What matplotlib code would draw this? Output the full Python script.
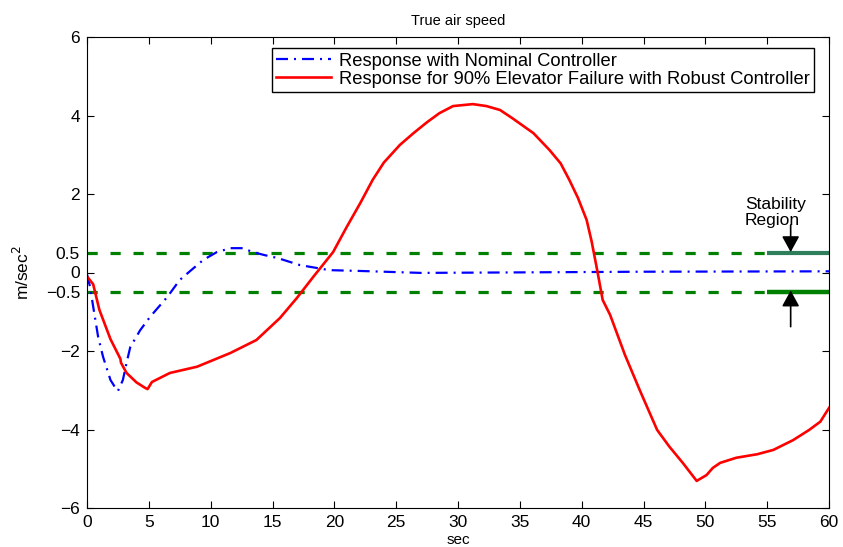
import matplotlib
matplotlib.use("Agg")
import matplotlib.pyplot as plt

plt.rcParams['font.family'] = ['Liberation Sans', 'DejaVu Sans']

# Nominal controller response (blue dash-dot)
t_nom = [0, 0.25, 0.5, 0.9, 1.3, 1.9, 2.4, 2.5, 2.9, 3.2, 3.5, 4.3, 5.1, 6.5, 7.5, 8.5, 9.4,
         10.5, 11.6, 12.6, 13.4, 14.4, 15.4, 17.2, 19.6, 22, 27, 33.4, 45, 60]
y_nom = [-0.05, -0.37, -0.87, -1.64, -2.15, -2.74, -2.99, -3.02, -2.74, -2.3, -1.9, -1.47,
         -1.13, -0.62, -0.19, 0.08, 0.32, 0.52, 0.62, 0.62, 0.52, 0.44, 0.37, 0.19, 0.06,
         0.04, -0.01, 0.0, 0.02, 0.03]

# 90% elevator failure with robust controller (red solid)
t_rob = [0, 0.5, 1.0, 1.9, 2.7, 2.75, 3.2, 4.0, 4.7, 4.9, 5.25, 6.7, 8.9, 11.6, 13.7, 15.6,
         16.97, 18.3, 19.9, 21.0, 22.1, 23.1, 24.0, 25.3, 26.4, 27.5, 28.5, 29.6, 31.2, 32.3,
         33.4, 34.4, 36.1, 37.4, 38.3, 39.0, 39.7, 40.4, 40.8, 41.2, 41.7, 42.3, 43.5, 44.7,
         46.1, 47.1, 48.2, 49.3, 50.1, 50.6, 51.2, 52.5, 54.2, 55.5, 57.1, 58.4, 59.3, 60]
y_rob = [-0.1, -0.3, -0.95, -1.7, -2.2, -2.3, -2.56, -2.8, -2.94, -2.97, -2.79, -2.56, -2.4,
         -2.05, -1.72, -1.16, -0.65, -0.11, 0.52, 1.16, 1.77, 2.36, 2.8, 3.25, 3.55, 3.83,
         4.06, 4.24, 4.29, 4.24, 4.14, 3.93, 3.55, 3.12, 2.78, 2.36, 1.9, 1.34, 0.8, 0.15,
         -0.7, -1.08, -2.1, -3.0, -4.01, -4.44, -4.86, -5.31, -5.16, -4.98, -4.85, -4.72,
         -4.63, -4.52, -4.27, -4.01, -3.8, -3.45]

bound_levels = [0.5, -0.5]
dash_end = 55
x_ticks = [0, 5, 10, 15, 20, 25, 30, 35, 40, 45, 50, 55, 60]
y_ticks = [-6, -4, -2, -0.5, 0, 0.5, 2, 4, 6]
y_ticklabels = ['\u22126', '\u22124', '\u22122', '\u22120.5', '0', '0.5', '2', '4', '6']

fig = plt.figure(figsize=(8.43, 5.47), dpi=100)
ax = fig.add_axes([87/843, 1-508/547, (829-87)/843, (508-37)/547])

# stability bounds
for lv in bound_levels:
    ax.plot([0, dash_end], [lv, lv], color=(0, 0.5, 0), lw=2.3, dashes=(3.2, 4.0))
ax.plot([dash_end, 60], [0.5, 0.5], color='#2e7d5b', lw=3.0, solid_capstyle='butt')
ax.plot([dash_end, 60], [-0.5, -0.5], color=(0, 0.5, 0), lw=3.2, solid_capstyle='butt')

l1, = ax.plot(t_nom, y_nom, color='blue', lw=1.6, ls=(0, (5.4, 2.7, 0.9, 2.7)),
              label='Response with Nominal Controller')
l2, = ax.plot(t_rob, y_rob, color='red', lw=1.9, solid_joinstyle='round',
              label='Response for 90% Elevator Failure with Robust Controller')

arrow = dict(arrowstyle='-|>,head_length=0.4,head_width=0.22', color='black', lw=1.2,
             mutation_scale=24, shrinkA=0, shrinkB=0)
ax.annotate('', xy=(56.9, 0.52), xytext=(56.9, 1.21), arrowprops=arrow)
ax.annotate('', xy=(56.9, -0.46), xytext=(56.9, -1.38), arrowprops=arrow)
ax.text(53.2, 1.93, 'Stability\nRegion', ha='left', va='top', fontsize=12.5,
        linespacing=1.1)

ax.set_xlim(0, 60)
ax.set_ylim(-6, 6)
ax.set_xticks(x_ticks)
ax.set_yticks(y_ticks)
ax.set_yticklabels(y_ticklabels)
ax.tick_params(direction='in', top=True, right=True, labelsize=12.5, length=5, pad=5)
ax.set_title('True air speed', fontsize=10.5, pad=8.5)
ax.set_xlabel('sec', fontsize=11, labelpad=2)
ax.set_ylabel('m/sec$^2$', fontsize=12.5, labelpad=10)

leg = ax.legend(handles=[l1, l2], loc='upper right', bbox_to_anchor=(0.98, 0.9766),
                fontsize=13.2, frameon=True, fancybox=False, edgecolor='black',
                framealpha=1, handlelength=3.0, borderpad=0.25, labelspacing=0.05,
                handletextpad=0.4, borderaxespad=0)
leg.get_frame().set_linewidth(1.0)

fig.savefig('out.png', dpi=100)
